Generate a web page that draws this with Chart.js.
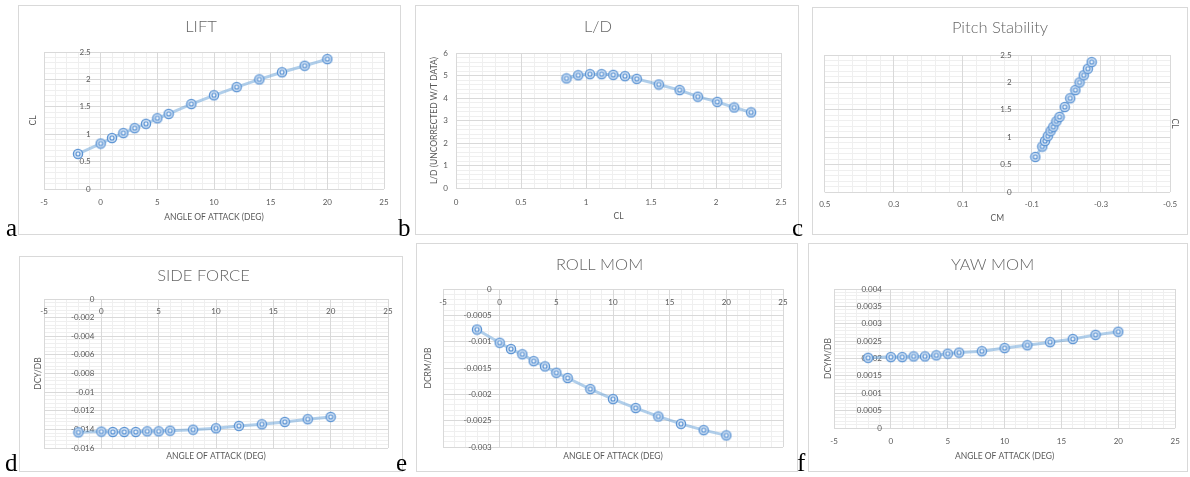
<!DOCTYPE html>
<html>
<head>
<meta charset="utf-8">
<script src="https://cdn.jsdelivr.net/npm/chart.js@4.4.1/dist/chart.umd.min.js"></script>
<style>
  html, body { margin: 0; padding: 0; background: #fff; width: 1190px; height: 477px; overflow: hidden; position: relative; }
  canvas { position: absolute; }
  .frame { position: absolute; box-sizing: border-box; border: 1px solid #d9d9d9; pointer-events: none; }
  .tag { position: absolute; font-family: "Liberation Serif", "DejaVu Serif", serif; font-size: 25px; line-height: 25px; color: #000; }
</style>
</head>
<body>
<script>
// ---- Wind-tunnel results ----
const aoa = [-2, 0, 1, 2, 3, 4, 5, 6, 8, 10, 12, 14, 16, 18, 20];           // angle of attack, deg
const cl = [0.64, 0.83, 0.93, 1.02, 1.11, 1.19, 1.29, 1.37, 1.55, 1.71, 1.86, 2.00, 2.13, 2.25, 2.37];
const ldCl = [0.85, 0.94, 1.03, 1.12, 1.21, 1.30, 1.39, 1.56, 1.72, 1.86, 2.01, 2.14, 2.27];
const ld = [4.87, 5.01, 5.06, 5.06, 5.03, 4.97, 4.85, 4.60, 4.35, 4.06, 3.83, 3.58, 3.36];
const cm = [-0.11, -0.13, -0.138, -0.146, -0.154, -0.162, -0.171, -0.18, -0.195, -0.211, -0.226, -0.238, -0.25, -0.262, -0.273];
const dcyDb = [-0.01432, -0.01424, -0.01428, -0.01428, -0.01428, -0.01421, -0.01421, -0.01414, -0.01403, -0.01388, -0.01363, -0.01345, -0.0132, -0.01291, -0.01266];
const dcrmDb = [-0.00077, -0.00102, -0.00114, -0.00124, -0.00137, -0.00147, -0.00159, -0.00169, -0.0019, -0.00209, -0.00226, -0.00242, -0.00256, -0.00268, -0.00278];
const dcymDb = [0.00202, 0.00204, 0.00204, 0.00206, 0.00206, 0.00209, 0.00214, 0.00217, 0.00221, 0.0023, 0.00238, 0.00247, 0.00256, 0.00268, 0.00277];

// ---- Axis ranges: [min, max, major step, minor step] ----
const aoaAxis = [-5, 25, 5, 1];
const clAxis = [0, 2.5, 0.5, 0.1];
const ldClAxis = [0, 2.5, 0.5, 0.1];
const ldAxis = [0, 6, 1, 0.2];
const cmAxis = [-0.5, 0.5, 0.2, 0.04];
const dcyAxis = [-0.016, 0, 0.002, 0.0004];
const dcrmAxis = [-0.003, 0, 0.0005, 0.0001];
const dcymAxis = [0, 0.004, 0.0005, 0.0001];

// ---- Look ----
const FONT = 'Lato, "Open Sans", sans-serif';
const TICK = 8, AXT = 8.5, HEAD = 16.5, LH = 1.2;
const TEXT = '#595959', HEAD_COL = '#666666';
const MAJOR = '#d9d9d9', MINOR = '#efefef';
const LINE = 'rgba(91,155,213,0.48)';

// double-ring marker
function ringMarker() {
  const c = document.createElement('canvas');
  c.width = 12; c.height = 12;
  const g = c.getContext('2d');
  g.beginPath(); g.arc(6, 6, 4.6, 0, Math.PI * 2);
  g.fillStyle = '#cddff3'; g.fill();
  g.lineWidth = 1.3; g.strokeStyle = '#5b93d3'; g.stroke();
  g.beginPath(); g.arc(6, 6, 2, 0, Math.PI * 2);
  g.fillStyle = '#eef4fb'; g.fill();
  g.lineWidth = 1.1; g.stroke();
  return c;
}
const MARK = ringMarker();

const fmt = v => String(+Number(v).toFixed(6));
const tickFont = { family: FONT, size: TICK, lineHeight: LH };
const axFont = { family: FONT, size: AXT, lineHeight: LH };

function minorAxis(r, pos, rev) {
  return {
    type: 'linear', position: pos, min: r[0], max: r[1], reverse: !!rev, z: -1,
    ticks: { display: false, stepSize: r[3] },
    grid: { color: MINOR, drawTicks: false },
    border: { display: false },
    afterFit: s => { if (pos === 'bottom') s.height = 0; else s.width = 0; }
  };
}

function panel(p) {
  const [bx, by, W, H] = p.box;
  const [L, T, R, B] = p.plot;
  const cv = document.createElement('canvas');
  cv.width = W; cv.height = H;
  cv.style.left = bx + 'px'; cv.style.top = by + 'px';
  document.body.appendChild(cv);
  const fr = document.createElement('div');
  fr.className = 'frame';
  Object.assign(fr.style, { left: bx + 'px', top: by + 'px', width: W + 'px', height: H + 'px' });
  document.body.appendChild(fr);

  const xTop = p.xAt === 'zero';
  const tHalf = TICK * LH / 2, aHalf = AXT * LH / 2;
  const xTitle = { display: true, text: p.xTitle, color: TEXT, font: axFont, padding: { top: 0, bottom: H - p.xTitleCY - aHalf } };

  // value-axis labels sit p.yGap pixels to the left of the x = 0 line
  const perPx = (p.xr[1] - p.xr[0]) / (R - L);
  const yLabelAt = (p.xRev ? 1 : -1) * p.yGap * perPx;

  const scales = {
    xm: minorAxis(p.xr, 'bottom', p.xRev),
    ym: minorAxis(p.yr, p.ySide, false),
    x: {
      type: 'linear', position: xTop ? { y: 0 } : 'bottom',
      min: p.xr[0], max: p.xr[1], reverse: !!p.xRev,
      ticks: { stepSize: p.xr[2], callback: fmt, font: tickFont, color: TEXT, autoSkip: false, maxRotation: 0,
               padding: p.xLabelCY - (xTop ? T : B) - tHalf },
      grid: { color: MAJOR, drawTicks: false },
      border: { display: false },
      title: xTop ? { display: false } : xTitle,
      afterFit: s => { if (!xTop) s.height = H - B; }
    },
    y: {
      type: 'linear', position: { x: yLabelAt },
      min: p.yr[0], max: p.yr[1],
      ticks: { stepSize: p.yr[2], callback: fmt, font: tickFont, color: TEXT, autoSkip: false, padding: 0 },
      grid: { color: MAJOR, drawTicks: false },
      border: { display: false }
    },
    yt: {
      type: 'linear', position: p.ySide, min: 0, max: 1,
      ticks: { display: false }, grid: { display: false, drawTicks: false }, border: { display: false },
      title: { display: true, text: p.yTitle, color: TEXT, font: axFont,
               padding: { top: (p.ySide === 'left' ? p.yTitleCX : W - p.yTitleCX) - aHalf, bottom: 0 } },
      afterFit: s => { s.width = p.ySide === 'left' ? L : W - R; }
    }
  };
  if (xTop) {
    scales.xt = {
      type: 'linear', position: 'bottom', min: 0, max: 1,
      ticks: { display: false }, grid: { display: false, drawTicks: false }, border: { display: false },
      title: xTitle,
      afterFit: s => { s.height = H - B; }
    };
  }

  const hTop = p.titleCY - HEAD * LH / 2;
  new Chart(cv, {
    type: 'scatter',
    data: {
      datasets: [{
        data: p.xs.map((x, i) => ({ x, y: p.ys[i] })),
        xAxisID: 'x', yAxisID: 'y',
        showLine: true, borderColor: LINE, borderWidth: 3, tension: 0,
        pointStyle: MARK, pointRadius: 5, pointHoverRadius: 5
      }]
    },
    options: {
      responsive: false, animation: false, devicePixelRatio: 1,
      events: [],
      layout: { padding: { left: 0, top: 0, bottom: 0, right: p.ySide === 'left' ? W - R : 0 } },
      plugins: {
        legend: { display: false },
        tooltip: { enabled: false },
        title: {
          display: true, text: p.title, color: HEAD_COL,
          font: { family: FONT, size: HEAD, weight: '300', lineHeight: LH },
          padding: { top: hTop, bottom: T - HEAD * LH - hTop }
        }
      },
      scales
    }
  });
}

function tag(t, x, y) {
  const d = document.createElement('div');
  d.className = 'tag'; d.textContent = t;
  d.style.left = x + 'px'; d.style.top = y + 'px';
  document.body.appendChild(d);
}

panel({ box: [18, 5, 383, 230], plot: [26, 47, 366, 184], title: 'LIFT', titleCY: 22,
        xs: aoa, ys: cl, xr: aoaAxis, yr: clAxis,
        xLabelCY: 197, xTitle: 'ANGLE OF ATTACK (DEG)', xTitleCY: 212,
        yTitle: 'CL', yTitleCX: 15, ySide: 'left', yGap: 10 });

panel({ box: [415, 5, 384, 230], plot: [41, 48, 366, 183], title: 'L/D', titleCY: 22,
        xs: ldCl, ys: ld, xr: ldClAxis, yr: ldAxis,
        xLabelCY: 197, xTitle: 'CL', xTitleCY: 211,
        yTitle: 'L/D (UNCORRECTED W/T DATA)', yTitleCX: 19, ySide: 'left', yGap: 8 });

panel({ box: [812, 7, 376, 228], plot: [16, 48, 358, 185], title: 'Pitch Stability', titleCY: 21,
        xs: cm, ys: cl, xr: cmAxis, yr: clAxis, xRev: true,
        xLabelCY: 197, xTitle: 'CM', xTitleCY: 211,
        yTitle: 'CL', yTitleCX: 363, ySide: 'right', yGap: -14 });

panel({ box: [19, 256, 384, 216], plot: [25, 43, 369, 192], title: 'SIDE FORCE', titleCY: 20,
        xs: aoa, ys: dcyDb, xr: aoaAxis, yr: dcyAxis, xAt: 'zero',
        xLabelCY: 55, xTitle: 'ANGLE OF ATTACK (DEG)', xTitleCY: 200,
        yTitle: 'DCY/DB', yTitleCX: 19, ySide: 'left', yGap: 7 });

panel({ box: [416, 243, 382, 229], plot: [27, 46, 367, 204], title: 'ROLL MOM', titleCY: 22,
        xs: aoa, ys: dcrmDb, xr: aoaAxis, yr: dcrmAxis, xAt: 'zero',
        xLabelCY: 59, xTitle: 'ANGLE OF ATTACK (DEG)', xTitleCY: 213,
        yTitle: 'DCRM/DB', yTitleCX: 12, ySide: 'left', yGap: 8 });

panel({ box: [808, 243, 380, 229], plot: [26, 46, 369, 185], title: 'YAW MOM', titleCY: 22,
        xs: aoa, ys: dcymDb, xr: aoaAxis, yr: dcymAxis,
        xLabelCY: 198, xTitle: 'ANGLE OF ATTACK (DEG)', xTitleCY: 213,
        yTitle: 'DCYM/DB', yTitleCX: 20, ySide: 'left', yGap: 9 });

tag('a', 6, 215); tag('b', 398, 215); tag('c', 792, 215);
tag('d', 5, 450); tag('e', 396, 450); tag('f', 797, 450);
</script>
</body>
</html>
